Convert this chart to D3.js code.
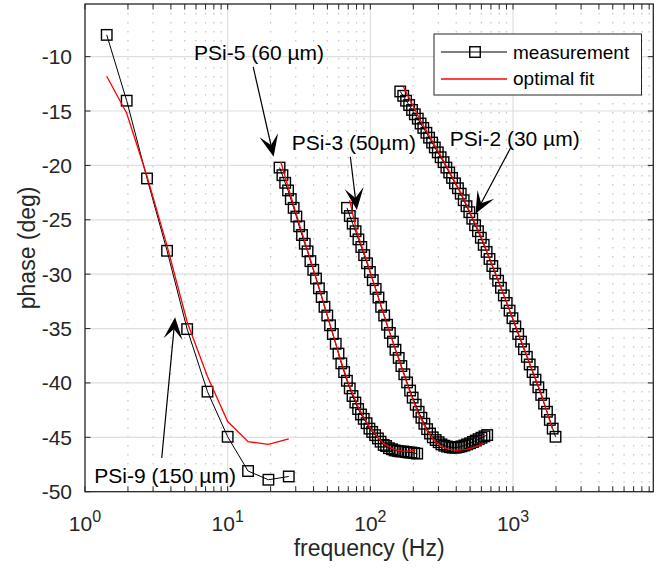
<!DOCTYPE html>
<html>
<head>
<meta charset="utf-8">
<title>PSi phase vs frequency</title>
<script src="https://cdnjs.cloudflare.com/ajax/libs/d3/7.8.5/d3.min.js"></script>
<style>
  body { margin: 0; background: #fff; }
  text { font-family: "Liberation Sans", Arial, Helvetica, sans-serif; fill: #262626; }
</style>
</head>
<body>
<svg id="chart" width="666" height="573"></svg>
<script>
// ---- data ----
// PSi-9 (150 um)
var psi9Freq  = [1.42, 1.96, 2.72, 3.76, 5.20, 7.22, 10.0, 13.9, 19.3, 26.8];
var psi9Phase = [-8.0, -14.05, -21.2, -27.85, -35.05, -40.8, -44.95, -48.1, -48.9, -48.6];
var psi9FitPhase = [-11.8, -15.2, -21.0, -27.4, -34.4, -39.4, -43.55, -45.4, -45.65, -45.15];

// PSi-5 (60 um)
var psi5Freq = [23.1, 24.2, 25.3, 26.5, 27.7, 29.0, 30.3, 31.7, 33.2, 34.7,
                36.3, 38.0, 39.8, 41.6, 43.6, 45.6, 47.7, 49.9, 52.2, 54.6,
                57.2, 59.8, 62.6, 65.5, 68.5, 71.7, 75.0, 78.5, 82.1, 86.0,
                89.9, 94.1, 98.5, 103, 108, 113, 118, 124, 129, 135,
                142, 148, 155, 162, 170, 178, 186, 194, 203, 213];
var psi5Phase = [-20.2, -20.9, -21.6, -22.3, -23.1, -23.9, -24.7, -25.6, -26.4, -27.2,
                 -27.9, -28.8, -29.6, -30.4, -31.3, -32.1, -33.0, -33.8, -34.7, -35.5,
                 -36.4, -37.3, -38.2, -39.0, -39.8, -40.5, -41.2, -41.8, -42.4, -42.9,
                 -43.3, -43.7, -44.2, -44.5, -44.8, -45.1, -45.4, -45.7, -45.8, -46.0,
                 -46.1, -46.2, -46.25, -46.3, -46.3, -46.35, -46.4, -46.4, -46.45, -46.5];
var psi5FitFreq  = [23.6, 27.1, 32.3, 37.9, 44.1, 51.8, 61.6, 70.4, 82.8, 100, 124, 146, 171, 207];
var psi5FitPhase = [-19.7, -22.4, -25.7, -28.6, -31.4, -34.5, -37.8, -40.1, -42.3, -44.2, -45.6, -46.1, -46.3, -46.2];

// PSi-3 (50 um)
var psi3Freq = [68.6, 71.8, 75.2, 78.8, 82.5, 86.4, 90.5, 94.8, 99.3, 104,
                109, 114, 119, 125, 131, 137, 144, 150, 158, 165,
                173, 181, 190, 198, 208, 218, 228, 239, 250, 262,
                274, 287, 301, 315, 330, 345, 362, 379, 397, 416,
                435, 456, 477, 500, 524, 548, 574, 601, 630, 659];
var psi3Phase = [-23.9, -24.65, -25.35, -26.05, -26.8, -27.5, -28.25, -29.0, -29.8, -30.55,
                 -31.35, -32.15, -33.0, -33.8, -34.65, -35.4, -36.2, -36.95, -37.7, -38.45,
                 -39.2, -39.95, -40.7, -41.35, -42.0, -42.65, -43.2, -43.75, -44.25, -44.65,
                 -45.0, -45.25, -45.45, -45.65, -45.77, -45.85, -45.91, -45.95, -45.95, -45.9,
                 -45.83, -45.75, -45.65, -45.55, -45.43, -45.3, -45.17, -45.04, -44.91, -44.79];
var psi3FitFreq  = [71.6, 80, 95, 111, 132, 158, 189, 215, 250, 280, 320, 360, 406, 470, 540, 624];
var psi3FitPhase = [-23.2, -26.0, -28.9, -31.7, -34.8, -37.8, -40.8, -42.7, -44.4, -45.3, -45.9, -46.1, -46.2, -46.1, -45.9, -45.55];

// PSi-2 (30 um)
var psi2Freq = [162, 170, 178, 187, 196, 205, 215, 225, 235, 247,
                258, 271, 283, 297, 311, 326, 341, 357, 374, 392,
                411, 430, 451, 472, 494, 518, 542, 568, 595, 623,
                653, 684, 716, 750, 786, 823, 862, 903, 946, 991,
                1038, 1087, 1139, 1193, 1250, 1309, 1372, 1437, 1505, 1576,
                1651, 1729, 1811, 1897, 1986];
var psi2Phase = [-13.2, -13.6, -14.05, -14.45, -14.9, -15.3, -15.7, -16.15, -16.55, -17.0,
                 -17.45, -17.9, -18.35, -18.8, -19.25, -19.7, -20.2, -20.65, -21.15, -21.65,
                 -22.1, -22.6, -23.2, -23.75, -24.3, -24.9, -25.5, -26.05, -26.65, -27.3,
                 -27.95, -28.6, -29.25, -29.95, -30.6, -31.25, -31.95, -32.65, -33.35, -34.05,
                 -34.8, -35.5, -36.2, -36.9, -37.6, -38.3, -39.0, -39.7, -40.4, -41.1,
                 -41.9, -42.65, -43.4, -44.2, -44.95];
var psi2FitFreq  = [170, 225, 311, 430, 595, 823, 1139, 1576, 1884];
var psi2FitPhase = [-12.75, -15.9, -19.1, -22.5, -26.5, -31.2, -36.1, -41.0, -44.2];

var yTicks = [-50, -45, -40, -35, -30, -25, -20, -15, -10];
var xMajor = [1, 10, 100, 1000];
var xExp   = ["0", "1", "2", "3"];

// annotations: label, text anchor (freq, phase), arrow start, arrow tip
var notes = [
  { label: "PSi-5 (60 \u00b5m)",  tf: 16.6, tp: -10.3,  f0: 15.1, p0: -10.95, f1: 21.0, p1: -19.2 },
  { label: "PSi-3 (50\u00b5m)",   tf: 76.6, tp: -18.6,  f0: 72.4, p0: -19.2,  f1: 80.4, p1: -24.1 },
  { label: "PSi-2 (30 \u00b5m)",  tf: 1028, tp: -18.2,  f0: 960,  p0: -18.4,  f1: 546,  p1: -24.45 },
  { label: "PSi-9 (150 \u00b5m)", tf: 3.64, tp: -49.17, f0: 3.45, p0: -46.9,  f1: 4.28, p1: -33.95 }
];

// ---- layout ----
var svg = d3.select("#chart");
var plotL = 85, plotR = 653.3, plotT = 4, plotB = 491.7;

var x = d3.scaleLog().domain([1, 9620]).range([plotL, plotR]);
var y = d3.scaleLinear().domain([-50, -5.16]).range([plotB, plotT]);

function zip(fs, ps) { return fs.map(function(f, i) { return { f: f, p: ps[i] }; }); }

// minor grid (x only, dotted)
var minor = [];
[1, 10, 100, 1000].forEach(function(dec) {
  for (var k = 2; k <= 9; k++) minor.push(dec * k);
});

svg.append("g").selectAll("line").data(minor).enter().append("line")
  .attr("x1", function(d) { return x(d); }).attr("x2", function(d) { return x(d); })
  .attr("y1", plotT).attr("y2", plotB)
  .attr("stroke", "#c4c4c4").attr("stroke-width", 1.2)
  .attr("stroke-dasharray", "1.5,7.5");

// major grid
svg.append("g").selectAll("line").data(xMajor.slice(1)).enter().append("line")
  .attr("x1", function(d) { return x(d); }).attr("x2", function(d) { return x(d); })
  .attr("y1", plotT).attr("y2", plotB)
  .attr("stroke", "#dedede").attr("stroke-width", 1.2);
svg.append("g").selectAll("line").data(yTicks.slice(1)).enter().append("line")
  .attr("x1", plotL).attr("x2", plotR)
  .attr("y1", function(d) { return y(d); }).attr("y2", function(d) { return y(d); })
  .attr("stroke", "#dedede").attr("stroke-width", 1.2);

// tick marks, inward, on all four sides
var tl = 5.5, axisCol = "#262626";
var tk = svg.append("g").attr("stroke", axisCol).attr("stroke-width", 1);
minor.concat(xMajor).forEach(function(v) {
  tk.append("line").attr("x1", x(v)).attr("x2", x(v)).attr("y1", plotB).attr("y2", plotB - tl);
  tk.append("line").attr("x1", x(v)).attr("x2", x(v)).attr("y1", plotT).attr("y2", plotT + tl);
});
yTicks.forEach(function(v) {
  tk.append("line").attr("x1", plotL).attr("x2", plotL + tl).attr("y1", y(v)).attr("y2", y(v));
  tk.append("line").attr("x1", plotR).attr("x2", plotR - tl).attr("y1", y(v)).attr("y2", y(v));
});

// tick labels
svg.append("g").selectAll("text").data(yTicks).enter().append("text")
  .attr("x", plotL - 13).attr("y", function(d) { return y(d); })
  .attr("dy", "0.36em").attr("text-anchor", "end").attr("font-size", 21)
  .text(function(d) { return d; });

var xl = svg.append("g").selectAll("text").data(xMajor).enter().append("text")
  .attr("x", function(d) { return x(d); }).attr("y", 531)
  .attr("text-anchor", "middle").attr("font-size", 21);
xl.append("tspan").text("10");
xl.append("tspan").attr("dy", -9).attr("font-size", 16).text(function(d, i) { return xExp[i]; });

// axis labels
svg.append("text").attr("x", (plotL + plotR) / 2).attr("y", 556)
  .attr("text-anchor", "middle").attr("font-size", 23).text("frequency (Hz)");
svg.append("text").attr("transform", "translate(35," + ((plotT + plotB) / 2) + ") rotate(-90)")
  .attr("text-anchor", "middle").attr("font-size", 23).text("phase (deg)");

// ---- series ----
var line = d3.line().x(function(d) { return x(d.f); }).y(function(d) { return y(d.p); });
var ms = 10.5;

function measured(pts) {
  svg.append("path").datum(pts).attr("d", line)
    .attr("fill", "none").attr("stroke", "#000").attr("stroke-width", 1);
  svg.append("g").selectAll("rect").data(pts).enter().append("rect")
    .attr("x", function(d) { return x(d.f) - ms / 2; })
    .attr("y", function(d) { return y(d.p) - ms / 2; })
    .attr("width", ms).attr("height", ms)
    .attr("fill", "none").attr("stroke", "#000").attr("stroke-width", 1.4);
}
function fitted(pts) {
  svg.append("path").datum(pts).attr("d", line)
    .attr("fill", "none").attr("stroke", "#ff0000").attr("stroke-width", 1.3);
}

measured(zip(psi9Freq, psi9Phase));
fitted(zip(psi9Freq, psi9FitPhase));
measured(zip(psi5Freq, psi5Phase));
fitted(zip(psi5FitFreq, psi5FitPhase));
measured(zip(psi3Freq, psi3Phase));
fitted(zip(psi3FitFreq, psi3FitPhase));
measured(zip(psi2Freq, psi2Phase));
fitted(zip(psi2FitFreq, psi2FitPhase));

// axes box on top
svg.append("rect").attr("x", plotL).attr("y", plotT)
  .attr("width", plotR - plotL).attr("height", plotB - plotT)
  .attr("fill", "none").attr("stroke", axisCol).attr("stroke-width", 1.3);

// ---- annotations ----
var headL = 22, headW = 9.5, notch = 12;
notes.forEach(function(n) {
  var x0 = x(n.f0), y0 = y(n.p0), x1 = x(n.f1), y1 = y(n.p1);
  var dx = x1 - x0, dy = y1 - y0, len = Math.sqrt(dx * dx + dy * dy);
  var ux = dx / len, uy = dy / len, px = -uy, py = ux;
  svg.append("line").attr("x1", x0).attr("y1", y0)
    .attr("x2", x1 - ux * notch).attr("y2", y1 - uy * notch)
    .attr("stroke", "#000").attr("stroke-width", 1.2);
  var head = [
    [x1, y1],
    [x1 - ux * headL + px * headW, y1 - uy * headL + py * headW],
    [x1 - ux * notch, y1 - uy * notch],
    [x1 - ux * headL - px * headW, y1 - uy * headL - py * headW]
  ];
  svg.append("polygon").attr("points", head.map(function(p) { return p.join(","); }).join(" "))
    .attr("fill", "#000");
  svg.append("text").attr("x", x(n.tf)).attr("y", y(n.tp))
    .attr("text-anchor", "middle").attr("font-size", 21).style("fill", "#000")
    .text(n.label);
});

// ---- legend ----
var lg = svg.append("g").attr("transform", "translate(434,34)");
lg.append("rect").attr("width", 207.5).attr("height", 61)
  .attr("fill", "#fff").attr("stroke", axisCol).attr("stroke-width", 1);
lg.append("line").attr("x1", 7).attr("x2", 73).attr("y1", 18).attr("y2", 18)
  .attr("stroke", "#000").attr("stroke-width", 1);
lg.append("rect").attr("x", 41 - ms / 2).attr("y", 18 - ms / 2).attr("width", ms).attr("height", ms)
  .attr("fill", "none").attr("stroke", "#000").attr("stroke-width", 1.4);
lg.append("line").attr("x1", 7).attr("x2", 73).attr("y1", 45).attr("y2", 45)
  .attr("stroke", "#ff0000").attr("stroke-width", 1.3);
lg.append("text").attr("x", 79).attr("y", 24.5).attr("font-size", 19).style("fill", "#000").text("measurement");
lg.append("text").attr("x", 79).attr("y", 51).attr("font-size", 19).style("fill", "#000").text("optimal fit");
</script>
</body>
</html>
